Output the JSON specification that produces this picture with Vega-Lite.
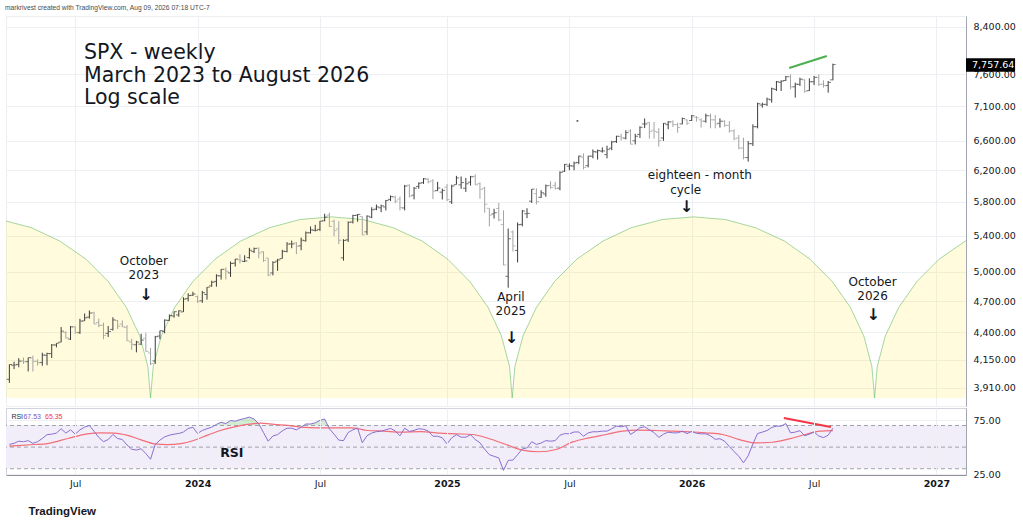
{
  "$schema": "https://vega.github.io/schema/vega-lite/v6.json",
  "background": "#ffffff",
  "padding": {"left": 5, "top": 4, "right": 0, "bottom": 0},
  "title": {
    "text": "markrivest created with TradingView.com, Aug 09, 2026 07:18 UTC-7",
    "anchor": "start",
    "font": "Liberation Sans",
    "fontSize": 6.7,
    "fontWeight": "normal",
    "color": "#4a4a4a",
    "offset": 4
  },
  "config": {
    "font": "DejaVu Sans",
    "view": {"stroke": null},
    "axis": {
      "labelFont": "DejaVu Sans",
      "labelColor": "#131722",
      "gridColor": "#eeeff2",
      "ticks": false,
      "domainColor": "#a3a6af"
    }
  },
  "datasets": {
    "bars": [
      {"d":"2023-03-27","o":3982,"h":4110,"l":3952,"c":4109,"rsi":52.5},
      {"d":"2023-04-03","o":4102,"h":4133,"l":4069,"c":4105,"rsi":53.5},
      {"d":"2023-04-10","o":4110,"h":4164,"l":4085,"c":4138,"rsi":55.5},
      {"d":"2023-04-17","o":4140,"h":4170,"l":4114,"c":4133,"rsi":55},
      {"d":"2023-04-24","o":4134,"h":4170,"l":4049,"c":4169,"rsi":56},
      {"d":"2023-05-01","o":4166,"h":4187,"l":4048,"c":4136,"rsi":53.5},
      {"d":"2023-05-08","o":4136,"h":4155,"l":4099,"c":4124,"rsi":55},
      {"d":"2023-05-15","o":4126,"h":4213,"l":4098,"c":4192,"rsi":58},
      {"d":"2023-05-22","o":4190,"h":4213,"l":4103,"c":4205,"rsi":61.5},
      {"d":"2023-05-29","o":4205,"h":4291,"l":4166,"c":4282,"rsi":62},
      {"d":"2023-06-05","o":4283,"h":4299,"l":4261,"c":4299,"rsi":63},
      {"d":"2023-06-12","o":4308,"h":4448,"l":4307,"c":4410,"rsi":67},
      {"d":"2023-06-19","o":4397,"h":4409,"l":4341,"c":4348,"rsi":63},
      {"d":"2023-06-26","o":4337,"h":4458,"l":4328,"c":4450,"rsi":66},
      {"d":"2023-07-03","o":4450,"h":4456,"l":4385,"c":4399,"rsi":62},
      {"d":"2023-07-10","o":4395,"h":4527,"l":4385,"c":4505,"rsi":66},
      {"d":"2023-07-17","o":4506,"h":4578,"l":4506,"c":4536,"rsi":68.5},
      {"d":"2023-07-24","o":4543,"h":4607,"l":4528,"c":4582,"rsi":70},
      {"d":"2023-07-31","o":4585,"h":4594,"l":4474,"c":4478,"rsi":64.6},
      {"d":"2023-08-07","o":4492,"h":4528,"l":4447,"c":4464,"rsi":59},
      {"d":"2023-08-14","o":4465,"h":4490,"l":4335,"c":4370,"rsi":55},
      {"d":"2023-08-21","o":4389,"h":4458,"l":4356,"c":4406,"rsi":57},
      {"d":"2023-08-28","o":4426,"h":4541,"l":4415,"c":4516,"rsi":61.7},
      {"d":"2023-09-04","o":4510,"h":4515,"l":4430,"c":4457,"rsi":58},
      {"d":"2023-09-11","o":4476,"h":4511,"l":4448,"c":4450,"rsi":57},
      {"d":"2023-09-18","o":4445,"h":4466,"l":4317,"c":4320,"rsi":52},
      {"d":"2023-09-25","o":4310,"h":4339,"l":4238,"c":4288,"rsi":48},
      {"d":"2023-10-02","o":4284,"h":4320,"l":4216,"c":4309,"rsi":47.3},
      {"d":"2023-10-09","o":4290,"h":4385,"l":4283,"c":4327,"rsi":48.5},
      {"d":"2023-10-16","o":4343,"h":4394,"l":4223,"c":4224,"rsi":44},
      {"d":"2023-10-23","o":4210,"h":4256,"l":4104,"c":4117,"rsi":38.8},
      {"d":"2023-10-30","o":4140,"h":4366,"l":4114,"c":4358,"rsi":52.5},
      {"d":"2023-11-06","o":4364,"h":4415,"l":4335,"c":4415,"rsi":56.5},
      {"d":"2023-11-13","o":4407,"h":4521,"l":4389,"c":4514,"rsi":59.5},
      {"d":"2023-11-20","o":4511,"h":4568,"l":4507,"c":4559,"rsi":61},
      {"d":"2023-11-27","o":4554,"h":4598,"l":4537,"c":4595,"rsi":62},
      {"d":"2023-12-04","o":4564,"h":4609,"l":4547,"c":4604,"rsi":62.6},
      {"d":"2023-12-11","o":4593,"h":4738,"l":4593,"c":4719,"rsi":64},
      {"d":"2023-12-18","o":4726,"h":4778,"l":4697,"c":4755,"rsi":67.2},
      {"d":"2023-12-25","o":4758,"h":4793,"l":4751,"c":4770,"rsi":68.4},
      {"d":"2024-01-01","o":4745,"h":4755,"l":4682,"c":4697,"rsi":62.6},
      {"d":"2024-01-08","o":4703,"h":4802,"l":4682,"c":4784,"rsi":65.4},
      {"d":"2024-01-15","o":4766,"h":4842,"l":4714,"c":4840,"rsi":67},
      {"d":"2024-01-22","o":4853,"h":4907,"l":4845,"c":4891,"rsi":68.5},
      {"d":"2024-01-29","o":4900,"h":4975,"l":4845,"c":4959,"rsi":71},
      {"d":"2024-02-05","o":4957,"h":5030,"l":4919,"c":5027,"rsi":73},
      {"d":"2024-02-12","o":5026,"h":5048,"l":4920,"c":5006,"rsi":71.8},
      {"d":"2024-02-19","o":4989,"h":5111,"l":4946,"c":5089,"rsi":74.6},
      {"d":"2024-02-26","o":5093,"h":5140,"l":5057,"c":5137,"rsi":74},
      {"d":"2024-03-04","o":5131,"h":5190,"l":5091,"c":5124,"rsi":75.5},
      {"d":"2024-03-11","o":5111,"h":5179,"l":5104,"c":5117,"rsi":76.5},
      {"d":"2024-03-18","o":5154,"h":5261,"l":5140,"c":5234,"rsi":77.8},
      {"d":"2024-03-25","o":5219,"h":5264,"l":5204,"c":5254,"rsi":76},
      {"d":"2024-04-01","o":5258,"h":5264,"l":5146,"c":5204,"rsi":71.5},
      {"d":"2024-04-08","o":5218,"h":5222,"l":5107,"c":5123,"rsi":63.5},
      {"d":"2024-04-15","o":5149,"h":5150,"l":4954,"c":4967,"rsi":55.5},
      {"d":"2024-04-22","o":4988,"h":5114,"l":4963,"c":5100,"rsi":60.3},
      {"d":"2024-04-29","o":5114,"h":5140,"l":5011,"c":5128,"rsi":61.6},
      {"d":"2024-05-06","o":5142,"h":5239,"l":5142,"c":5223,"rsi":65},
      {"d":"2024-05-13","o":5221,"h":5325,"l":5211,"c":5303,"rsi":67.5},
      {"d":"2024-05-20","o":5305,"h":5342,"l":5257,"c":5305,"rsi":67.5},
      {"d":"2024-05-27","o":5316,"h":5325,"l":5191,"c":5278,"rsi":66},
      {"d":"2024-06-03","o":5284,"h":5376,"l":5234,"c":5347,"rsi":68.4},
      {"d":"2024-06-10","o":5341,"h":5447,"l":5331,"c":5431,"rsi":71.4},
      {"d":"2024-06-17","o":5432,"h":5505,"l":5421,"c":5465,"rsi":71.4},
      {"d":"2024-06-24","o":5460,"h":5524,"l":5447,"c":5460,"rsi":72.5},
      {"d":"2024-07-01","o":5471,"h":5570,"l":5453,"c":5567,"rsi":74.8},
      {"d":"2024-07-08","o":5572,"h":5655,"l":5565,"c":5615,"rsi":76},
      {"d":"2024-07-15","o":5638,"h":5669,"l":5497,"c":5505,"rsi":67},
      {"d":"2024-07-22","o":5565,"h":5585,"l":5391,"c":5459,"rsi":62},
      {"d":"2024-07-29","o":5477,"h":5566,"l":5302,"c":5346,"rsi":56.5},
      {"d":"2024-08-05","o":5151,"h":5358,"l":5120,"c":5344,"rsi":56},
      {"d":"2024-08-12","o":5351,"h":5564,"l":5327,"c":5554,"rsi":63.5},
      {"d":"2024-08-19","o":5557,"h":5643,"l":5540,"c":5634,"rsi":66},
      {"d":"2024-08-26","o":5637,"h":5651,"l":5560,"c":5648,"rsi":67.7},
      {"d":"2024-09-02","o":5623,"h":5624,"l":5403,"c":5408,"rsi":54},
      {"d":"2024-09-09","o":5442,"h":5636,"l":5407,"c":5626,"rsi":60.5},
      {"d":"2024-09-16","o":5615,"h":5733,"l":5602,"c":5703,"rsi":63},
      {"d":"2024-09-23","o":5711,"h":5767,"l":5698,"c":5738,"rsi":64.3},
      {"d":"2024-09-30","o":5727,"h":5765,"l":5674,"c":5751,"rsi":64.8},
      {"d":"2024-10-07","o":5737,"h":5823,"l":5695,"c":5815,"rsi":66},
      {"d":"2024-10-14","o":5830,"h":5879,"l":5809,"c":5864,"rsi":67.3},
      {"d":"2024-10-21","o":5857,"h":5878,"l":5783,"c":5808,"rsi":65},
      {"d":"2024-10-28","o":5833,"h":5866,"l":5696,"c":5729,"rsi":60.5},
      {"d":"2024-11-04","o":5725,"h":6012,"l":5696,"c":5996,"rsi":67.5},
      {"d":"2024-11-11","o":6008,"h":6018,"l":5853,"c":5871,"rsi":64.5},
      {"d":"2024-11-18","o":5882,"h":5985,"l":5830,"c":5969,"rsi":65.5},
      {"d":"2024-11-25","o":5992,"h":6044,"l":5963,"c":6032,"rsi":67},
      {"d":"2024-12-02","o":6040,"h":6099,"l":6024,"c":6090,"rsi":66.5},
      {"d":"2024-12-09","o":6083,"h":6099,"l":6030,"c":6051,"rsi":65},
      {"d":"2024-12-16","o":6063,"h":6085,"l":5832,"c":5931,"rsi":60.1},
      {"d":"2024-12-23","o":5940,"h":6050,"l":5932,"c":5971,"rsi":60.1},
      {"d":"2024-12-30","o":5920,"h":5965,"l":5829,"c":5942,"rsi":58.6},
      {"d":"2025-01-06","o":5982,"h":6022,"l":5809,"c":5827,"rsi":53},
      {"d":"2025-01-13","o":5800,"h":6014,"l":5773,"c":5997,"rsi":58.6},
      {"d":"2025-01-20","o":6014,"h":6128,"l":6014,"c":6101,"rsi":61.5},
      {"d":"2025-01-27","o":6012,"h":6120,"l":5962,"c":6041,"rsi":59.2},
      {"d":"2025-02-03","o":5969,"h":6101,"l":5923,"c":6026,"rsi":59.2},
      {"d":"2025-02-10","o":6046,"h":6128,"l":6003,"c":6115,"rsi":61.5},
      {"d":"2025-02-17","o":6121,"h":6147,"l":6009,"c":6013,"rsi":57},
      {"d":"2025-02-24","o":6027,"h":6044,"l":5837,"c":5955,"rsi":54},
      {"d":"2025-03-03","o":5969,"h":5987,"l":5667,"c":5770,"rsi":48},
      {"d":"2025-03-10","o":5721,"h":5721,"l":5505,"c":5639,"rsi":43},
      {"d":"2025-03-17","o":5653,"h":5715,"l":5598,"c":5667,"rsi":41.5},
      {"d":"2025-03-24","o":5718,"h":5787,"l":5566,"c":5581,"rsi":40},
      {"d":"2025-03-31","o":5527,"h":5696,"l":5069,"c":5074,"rsi":28.4},
      {"d":"2025-04-07","o":4953,"h":5481,"l":4835,"c":5363,"rsi":37.7},
      {"d":"2025-04-14","o":5441,"h":5460,"l":5220,"c":5283,"rsi":38},
      {"d":"2025-04-21","o":5232,"h":5551,"l":5101,"c":5525,"rsi":43},
      {"d":"2025-04-28","o":5529,"h":5700,"l":5506,"c":5687,"rsi":48.4},
      {"d":"2025-05-05","o":5655,"h":5721,"l":5603,"c":5660,"rsi":49.3},
      {"d":"2025-05-12","o":5808,"h":5959,"l":5786,"c":5958,"rsi":55},
      {"d":"2025-05-19","o":5902,"h":5969,"l":5767,"c":5803,"rsi":52.5},
      {"d":"2025-05-26","o":5855,"h":5944,"l":5848,"c":5912,"rsi":53.8},
      {"d":"2025-06-02","o":5897,"h":6016,"l":5862,"c":6000,"rsi":56},
      {"d":"2025-06-09","o":6005,"h":6059,"l":5963,"c":5977,"rsi":55.5},
      {"d":"2025-06-16","o":6005,"h":6050,"l":5953,"c":5968,"rsi":56},
      {"d":"2025-06-23","o":5970,"h":6187,"l":5943,"c":6173,"rsi":61},
      {"d":"2025-06-30","o":6188,"h":6284,"l":6179,"c":6279,"rsi":62.5},
      {"d":"2025-07-07","o":6255,"h":6290,"l":6201,"c":6260,"rsi":62.3},
      {"d":"2025-07-14","o":6256,"h":6315,"l":6201,"c":6297,"rsi":64},
      {"d":"2025-07-21","o":6305,"h":6396,"l":6281,"c":6389,"rsi":64},
      {"d":"2025-07-28","o":6374,"h":6427,"l":6212,"c":6238,"rsi":60.1},
      {"d":"2025-08-04","o":6261,"h":6395,"l":6239,"c":6389,"rsi":63.2},
      {"d":"2025-08-11","o":6389,"h":6481,"l":6360,"c":6450,"rsi":64.2},
      {"d":"2025-08-18","o":6445,"h":6478,"l":6343,"c":6467,"rsi":64.2},
      {"d":"2025-08-25","o":6457,"h":6508,"l":6437,"c":6460,"rsi":64.8},
      {"d":"2025-09-01","o":6410,"h":6532,"l":6360,"c":6482,"rsi":64.8},
      {"d":"2025-09-08","o":6498,"h":6600,"l":6470,"c":6584,"rsi":67},
      {"d":"2025-09-15","o":6590,"h":6672,"l":6570,"c":6664,"rsi":69.4},
      {"d":"2025-09-22","o":6662,"h":6699,"l":6603,"c":6644,"rsi":68.8},
      {"d":"2025-09-29","o":6638,"h":6750,"l":6620,"c":6716,"rsi":69.8},
      {"d":"2025-10-06","o":6740,"h":6764,"l":6550,"c":6553,"rsi":61.7},
      {"d":"2025-10-13","o":6600,"h":6700,"l":6550,"c":6664,"rsi":64.5},
      {"d":"2025-10-20","o":6690,"h":6807,"l":6640,"c":6792,"rsi":68},
      {"d":"2025-10-27","o":6840,"h":6920,"l":6780,"c":6840,"rsi":68.8},
      {"d":"2025-11-03","o":6860,"h":6870,"l":6630,"c":6729,"rsi":66},
      {"d":"2025-11-10","o":6750,"h":6870,"l":6630,"c":6734,"rsi":63.5},
      {"d":"2025-11-17","o":6720,"h":6780,"l":6520,"c":6603,"rsi":59},
      {"d":"2025-11-24","o":6640,"h":6853,"l":6600,"c":6849,"rsi":62},
      {"d":"2025-12-01","o":6830,"h":6883,"l":6763,"c":6870,"rsi":63.8},
      {"d":"2025-12-08","o":6870,"h":6893,"l":6796,"c":6830,"rsi":63.2},
      {"d":"2025-12-15","o":6830,"h":6859,"l":6715,"c":6790,"rsi":63.2},
      {"d":"2025-12-22","o":6840,"h":6932,"l":6835,"c":6920,"rsi":64.8},
      {"d":"2025-12-29","o":6900,"h":6907,"l":6825,"c":6850,"rsi":62.5},
      {"d":"2026-01-05","o":6890,"h":6971,"l":6883,"c":6960,"rsi":64.5},
      {"d":"2026-01-12","o":6940,"h":6956,"l":6873,"c":6930,"rsi":62.8},
      {"d":"2026-01-19","o":6900,"h":6922,"l":6787,"c":6880,"rsi":62.3},
      {"d":"2026-01-26","o":6880,"h":6991,"l":6859,"c":6960,"rsi":62.3},
      {"d":"2026-02-02","o":6960,"h":6991,"l":6777,"c":6900,"rsi":60.5},
      {"d":"2026-02-09","o":6900,"h":6971,"l":6777,"c":6840,"rsi":57.2},
      {"d":"2026-02-16","o":6850,"h":6922,"l":6787,"c":6880,"rsi":57.8},
      {"d":"2026-02-23","o":6880,"h":6893,"l":6796,"c":6820,"rsi":55.5},
      {"d":"2026-03-02","o":6820,"h":6883,"l":6715,"c":6740,"rsi":50.5},
      {"d":"2026-03-09","o":6740,"h":6763,"l":6607,"c":6630,"rsi":46},
      {"d":"2026-03-16","o":6640,"h":6682,"l":6482,"c":6500,"rsi":41.5},
      {"d":"2026-03-23","o":6500,"h":6644,"l":6346,"c":6370,"rsi":35.5},
      {"d":"2026-03-30","o":6370,"h":6598,"l":6315,"c":6560,"rsi":42},
      {"d":"2026-04-06","o":6560,"h":6835,"l":6528,"c":6800,"rsi":53},
      {"d":"2026-04-13","o":6800,"h":7156,"l":6777,"c":7140,"rsi":62.6},
      {"d":"2026-04-20","o":7120,"h":7156,"l":7080,"c":7130,"rsi":63.9},
      {"d":"2026-04-27","o":7130,"h":7232,"l":7105,"c":7210,"rsi":65.3},
      {"d":"2026-05-04","o":7200,"h":7387,"l":7156,"c":7370,"rsi":68.2},
      {"d":"2026-05-11","o":7360,"h":7492,"l":7335,"c":7480,"rsi":69.4},
      {"d":"2026-05-18","o":7470,"h":7503,"l":7335,"c":7490,"rsi":69.4},
      {"d":"2026-05-25","o":7500,"h":7572,"l":7492,"c":7560,"rsi":71.8},
      {"d":"2026-06-01","o":7560,"h":7598,"l":7361,"c":7400,"rsi":63.2},
      {"d":"2026-06-08","o":7400,"h":7466,"l":7232,"c":7440,"rsi":63.9},
      {"d":"2026-06-15","o":7440,"h":7545,"l":7413,"c":7520,"rsi":65.2},
      {"d":"2026-06-22","o":7510,"h":7519,"l":7309,"c":7330,"rsi":60.5},
      {"d":"2026-06-29","o":7340,"h":7534,"l":7335,"c":7480,"rsi":62},
      {"d":"2026-07-06","o":7480,"h":7572,"l":7429,"c":7550,"rsi":64},
      {"d":"2026-07-13","o":7550,"h":7598,"l":7413,"c":7440,"rsi":60.3},
      {"d":"2026-07-20","o":7440,"h":7503,"l":7387,"c":7420,"rsi":58.8},
      {"d":"2026-07-27","o":7420,"h":7492,"l":7309,"c":7470,"rsi":61},
      {"d":"2026-08-03","o":7510,"h":7772,"l":7503,"c":7757.64,"rsi":67.53}
    ],
    "rsima": [
      {"d":"2023-03-27","v":51},{"d":"2023-05-03","v":52.4},{"d":"2023-05-23","v":53.3},
      {"d":"2023-06-22","v":58},{"d":"2023-07-21","v":62.3},{"d":"2023-08-10","v":63.2},
      {"d":"2023-08-30","v":62.9},{"d":"2023-09-19","v":60.8},{"d":"2023-10-08","v":57},
      {"d":"2023-10-29","v":53},{"d":"2023-11-17","v":52.4},{"d":"2023-12-07","v":53.3},
      {"d":"2023-12-27","v":56.4},{"d":"2024-01-16","v":61.1},{"d":"2024-02-04","v":65.4},
      {"d":"2024-02-25","v":68.8},{"d":"2024-03-15","v":71},{"d":"2024-04-04","v":72.2},
      {"d":"2024-04-24","v":71},{"d":"2024-05-14","v":70.1},{"d":"2024-06-02","v":68.5},
      {"d":"2024-06-28","v":67.9},{"d":"2024-07-22","v":67.9},{"d":"2024-08-16","v":67.9},
      {"d":"2024-09-10","v":65.4},{"d":"2024-10-04","v":64.8},{"d":"2024-10-29","v":63.9},
      {"d":"2024-11-29","v":64.4},{"d":"2024-12-25","v":62.9},{"d":"2025-01-19","v":62.3},
      {"d":"2025-02-13","v":61.7},{"d":"2025-03-09","v":58},{"d":"2025-04-04","v":52.4},
      {"d":"2025-04-28","v":47.2},{"d":"2025-05-23","v":45.7},{"d":"2025-06-17","v":47.8},
      {"d":"2025-07-12","v":54.8},{"d":"2025-08-05","v":58.6},{"d":"2025-08-31","v":61.7},
      {"d":"2025-09-24","v":64.8},{"d":"2025-10-19","v":65.7},{"d":"2025-11-13","v":65.4},
      {"d":"2025-12-07","v":64.8},{"d":"2026-01-02","v":64.2},{"d":"2026-01-26","v":63.2},
      {"d":"2026-02-20","v":61.7},{"d":"2026-03-17","v":57},{"d":"2026-04-10","v":53.9},
      {"d":"2026-05-05","v":54.5},{"d":"2026-05-30","v":57.6},{"d":"2026-06-23","v":61.7},
      {"d":"2026-07-14","v":64.8},{"d":"2026-08-03","v":65.35}
    ],
    "arcs": [
      {"arc":1,"d":"2023-01-26","p":5618},{"arc":1,"d":"2023-03-14","p":5586},
      {"arc":1,"d":"2023-04-29","p":5490},{"arc":1,"d":"2023-06-10","p":5337},
      {"arc":1,"d":"2023-07-19","p":5136},{"arc":1,"d":"2023-08-21","p":4899},
      {"arc":1,"d":"2023-09-17","p":4638},{"arc":1,"d":"2023-10-07","p":4365},
      {"arc":1,"d":"2023-10-19","p":4092},{"arc":1,"d":"2023-10-23","p":3828},
      {"arc":2,"d":"2023-10-23","p":3828},{"arc":2,"d":"2023-10-27","p":4092},
      {"arc":2,"d":"2023-11-08","p":4365},{"arc":2,"d":"2023-11-28","p":4638},
      {"arc":2,"d":"2023-12-25","p":4899},{"arc":2,"d":"2024-01-27","p":5136},
      {"arc":2,"d":"2024-03-05","p":5337},{"arc":2,"d":"2024-04-17","p":5490},
      {"arc":2,"d":"2024-06-01","p":5586},{"arc":2,"d":"2024-07-18","p":5618},
      {"arc":2,"d":"2024-09-03","p":5586},{"arc":2,"d":"2024-10-18","p":5490},
      {"arc":2,"d":"2024-11-30","p":5337},{"arc":2,"d":"2025-01-07","p":5136},
      {"arc":2,"d":"2025-02-09","p":4899},{"arc":2,"d":"2025-03-08","p":4638},
      {"arc":2,"d":"2025-03-28","p":4365},{"arc":2,"d":"2025-04-09","p":4092},
      {"arc":2,"d":"2025-04-13","p":3828},
      {"arc":3,"d":"2025-04-13","p":3828},{"arc":3,"d":"2025-04-17","p":4092},
      {"arc":3,"d":"2025-04-29","p":4365},{"arc":3,"d":"2025-05-19","p":4638},
      {"arc":3,"d":"2025-06-15","p":4899},{"arc":3,"d":"2025-07-18","p":5136},
      {"arc":3,"d":"2025-08-26","p":5337},{"arc":3,"d":"2025-10-07","p":5490},
      {"arc":3,"d":"2025-11-22","p":5586},{"arc":3,"d":"2026-01-08","p":5618},
      {"arc":3,"d":"2026-02-24","p":5586},{"arc":3,"d":"2026-04-10","p":5490},
      {"arc":3,"d":"2026-05-23","p":5337},{"arc":3,"d":"2026-06-30","p":5136},
      {"arc":3,"d":"2026-08-02","p":4899},{"arc":3,"d":"2026-08-29","p":4638},
      {"arc":3,"d":"2026-09-18","p":4365},{"arc":3,"d":"2026-09-30","p":4092},
      {"arc":3,"d":"2026-10-04","p":3828},
      {"arc":4,"d":"2026-10-04","p":3828},{"arc":4,"d":"2026-10-08","p":4092},
      {"arc":4,"d":"2026-10-20","p":4365},{"arc":4,"d":"2026-11-09","p":4638},
      {"arc":4,"d":"2026-12-06","p":4899},{"arc":4,"d":"2027-01-08","p":5136},
      {"arc":4,"d":"2027-02-16","p":5337},{"arc":4,"d":"2027-03-31","p":5490}
    ],
    "pricetrend": [{"d":"2026-05-30","p":7701},{"d":"2026-07-25","p":7899}],
    "rsitrend": [{"d":"2026-05-22","v":77},{"d":"2026-07-31","v":68.7}],
    "dot": [{"d":"2025-07-19","p":6884}],
    "headline": [
      {"d":"2023-07-16","p":7844,"t":"SPX - weekly"},
      {"d":"2023-07-16","p":7479,"t":"March 2023 to August 2026"},
      {"d":"2023-07-16","p":7132,"t":"Log scale"}
    ],
    "notes": [
      {"d":"2023-10-13","p":5111,"t":"October"},
      {"d":"2023-10-13","p":4962,"t":"2023"},
      {"d":"2025-04-11","p":4741,"t":"April"},
      {"d":"2025-04-11","p":4602,"t":"2025"},
      {"d":"2026-01-17","p":6133,"t":"eighteen - month"},
      {"d":"2025-12-27","p":5953,"t":"cycle"},
      {"d":"2026-10-01","p":4894,"t":"October"},
      {"d":"2026-10-01","p":4751,"t":"2026"}
    ],
    "arrows": [
      {"d":"2023-10-16","p":4761},
      {"d":"2025-04-12","p":4346},
      {"d":"2025-12-28","p":5737},
      {"d":"2026-10-02","p":4563}
    ],
    "last": [{"d":"2027-02-26","c":7757.64}],
    "band": [{"top":70,"bottom":30}],
    "levels": [{"v":70},{"v":50},{"v":30}],
    "legend": [
      {"d":"2023-03-30","v":78.1,"s":"name","t":"RSI"},
      {"d":"2023-04-17","v":78.1,"s":"rsi","t":"67.53"},
      {"d":"2023-05-19","v":78.1,"s":"ma","t":"65.35"}
    ],
    "rsilabel": [{"d":"2024-02-21","v":44.5,"t":"RSI"}]
  },
  "spacing": 0,
  "resolve": {"scale": {"x": "independent", "y": "independent"}},
  "vconcat": [
    {
      "width": 960,
      "height": 390,
      "view": {"stroke": "#eceef2"},
      "layer": [
        {
          "data": {"name": "arcs"},
          "mark": {"type": "area", "color": "#ffeb3b", "opacity": 0.18, "clip": true},
          "encoding": {
            "x": {
              "field": "d", "type": "temporal", "title": null,
              "scale": {"type": "utc", "domain": [
                {"year": 2023, "month": 3, "date": 22, "utc": true},
                {"year": 2027, "month": 2, "date": 17, "utc": true}
              ]},
              "axis": {
                "values": [
                  {"year": 2023, "month": 7, "date": 3, "utc": true},
                  {"year": 2024, "month": 1, "date": 1, "utc": true},
                  {"year": 2024, "month": 7, "date": 1, "utc": true},
                  {"year": 2025, "month": 1, "date": 6, "utc": true},
                  {"year": 2025, "month": 7, "date": 7, "utc": true},
                  {"year": 2026, "month": 1, "date": 5, "utc": true},
                  {"year": 2026, "month": 7, "date": 6, "utc": true},
                  {"year": 2027, "month": 1, "date": 4, "utc": true}
                ],
                "labels": false, "domain": false, "grid": true,
                "minExtent": 0, "maxExtent": 0
              }
            },
            "y": {
              "field": "p", "type": "quantitative", "title": null,
              "scale": {"type": "log", "domain": [3763, 8598], "nice": false},
              "axis": {
                "orient": "right",
                "values": [3910, 4150, 4400, 4700, 5000, 5400, 5800, 6200, 6600, 7100, 7600, 8400],
                "format": ",.2f",
                "labelFontSize": 9.5,
                "labelPadding": 7,
                "grid": true,
                "domain": true
              }
            },
            "y2": {"datum": 3828},
            "detail": {"field": "arc", "type": "nominal"}
          }
        },
        {
          "data": {"name": "arcs"},
          "mark": {"type": "line", "color": "#4caf50", "opacity": 0.5, "strokeWidth": 1, "clip": true},
          "encoding": {
            "x": {"field": "d", "type": "temporal", "title": null},
            "y": {"field": "p", "type": "quantitative", "title": null},
            "detail": {"field": "arc", "type": "nominal"}
          }
        },
        {
          "data": {"name": "bars"},
          "mark": {"type": "rule", "strokeWidth": 1},
          "encoding": {
            "x": {"field": "d", "type": "temporal", "title": null},
            "y": {"field": "l", "type": "quantitative", "title": null},
            "y2": {"field": "h"},
            "color": {"condition": {"test": "datum.c < datum.o", "value": "#a3a3a3"}, "value": "#3a3a3a"}
          }
        },
        {
          "data": {"name": "bars"},
          "mark": {"type": "tick", "orient": "horizontal", "size": 2.5, "thickness": 1, "xOffset": -1.5},
          "encoding": {
            "x": {"field": "d", "type": "temporal", "title": null},
            "y": {"field": "o", "type": "quantitative", "title": null},
            "color": {"condition": {"test": "datum.c < datum.o", "value": "#a3a3a3"}, "value": "#3a3a3a"}
          }
        },
        {
          "data": {"name": "bars"},
          "mark": {"type": "tick", "orient": "horizontal", "size": 2.5, "thickness": 1, "xOffset": 1.5},
          "encoding": {
            "x": {"field": "d", "type": "temporal", "title": null},
            "y": {"field": "c", "type": "quantitative", "title": null},
            "color": {"condition": {"test": "datum.c < datum.o", "value": "#a3a3a3"}, "value": "#3a3a3a"}
          }
        },
        {
          "data": {"name": "pricetrend"},
          "mark": {"type": "line", "color": "#4caf50", "strokeWidth": 2},
          "encoding": {
            "x": {"field": "d", "type": "temporal", "title": null},
            "y": {"field": "p", "type": "quantitative", "title": null}
          }
        },
        {
          "data": {"name": "dot"},
          "mark": {"type": "square", "color": "#555555", "size": 3, "opacity": 1},
          "encoding": {
            "x": {"field": "d", "type": "temporal", "title": null},
            "y": {"field": "p", "type": "quantitative", "title": null}
          }
        },
        {
          "data": {"name": "headline"},
          "mark": {"type": "text", "align": "left", "baseline": "alphabetic", "fontSize": 20.5, "font": "DejaVu Sans", "color": "#131722"},
          "encoding": {
            "x": {"field": "d", "type": "temporal", "title": null},
            "y": {"field": "p", "type": "quantitative", "title": null},
            "text": {"field": "t"}
          }
        },
        {
          "data": {"name": "notes"},
          "mark": {"type": "text", "align": "center", "baseline": "middle", "fontSize": 12, "font": "DejaVu Sans", "color": "#131722"},
          "encoding": {
            "x": {"field": "d", "type": "temporal", "title": null},
            "y": {"field": "p", "type": "quantitative", "title": null},
            "text": {"field": "t"}
          }
        },
        {
          "data": {"name": "arrows"},
          "mark": {"type": "text", "text": "↓", "align": "center", "baseline": "middle", "fontSize": 16, "fontWeight": "bold", "font": "DejaVu Sans", "color": "#131722"},
          "encoding": {
            "x": {"field": "d", "type": "temporal", "title": null},
            "y": {"field": "p", "type": "quantitative", "title": null}
          }
        },
        {
          "data": {"name": "last"},
          "mark": {"type": "rect", "color": "#000000"},
          "encoding": {
            "x": {"datum": {"year": 2027, "month": 2, "date": 17, "utc": true}, "type": "temporal"},
            "x2": {"datum": {"year": 2027, "month": 5, "date": 1, "utc": true}},
            "y": {"datum": 7641, "type": "quantitative"},
            "y2": {"datum": 7861}
          }
        },
        {
          "data": {"name": "last"},
          "mark": {"type": "text", "align": "left", "baseline": "middle", "fontSize": 9.5, "font": "DejaVu Sans", "color": "#ffffff"},
          "encoding": {
            "x": {"field": "d", "type": "temporal", "title": null},
            "y": {"field": "c", "type": "quantitative", "title": null},
            "text": {"field": "c", "type": "quantitative", "format": ",.2f"}
          }
        }
      ]
    },
    {
      "width": 960,
      "height": 67,
      "view": {"stroke": "#d1d4dc"},
      "title": {
        "text": "TradingView",
        "orient": "bottom",
        "anchor": "start",
        "font": "Liberation Sans",
        "fontSize": 11.5,
        "fontWeight": "bold",
        "color": "#131722",
        "offset": 18,
        "dx": 23
      },
      "layer": [
        {
          "data": {"name": "bars"},
          "transform": [{"filter": "datum.rsi >= 50"}],
          "mark": {"type": "area", "color": "#4caf50", "opacity": 0.25},
          "encoding": {
            "x": {
              "field": "d", "type": "temporal", "title": null,
              "scale": {"type": "utc", "domain": [
                {"year": 2023, "month": 3, "date": 22, "utc": true},
                {"year": 2027, "month": 2, "date": 17, "utc": true}
              ]},
              "axis": {
                "values": [
                  {"year": 2023, "month": 7, "date": 3, "utc": true},
                  {"year": 2024, "month": 1, "date": 1, "utc": true},
                  {"year": 2024, "month": 7, "date": 1, "utc": true},
                  {"year": 2025, "month": 1, "date": 6, "utc": true},
                  {"year": 2025, "month": 7, "date": 7, "utc": true},
                  {"year": 2026, "month": 1, "date": 5, "utc": true},
                  {"year": 2026, "month": 7, "date": 6, "utc": true},
                  {"year": 2027, "month": 1, "date": 4, "utc": true}
                ],
                "labelExpr": "utcmonth(datum.value) == 0 ? utcFormat(datum.value, '%Y') : utcFormat(datum.value, '%b')",
                "labelFontWeight": {"condition": {"test": "utcmonth(datum.value) == 0", "value": "bold"}, "value": "normal"},
                "labelFontSize": 9.5,
                "labelPadding": 3,
                "domainColor": "#8f929b",
                "grid": true,
                "zindex": 1
              }
            },
            "y": {
              "field": "rsi", "type": "quantitative", "title": null,
              "scale": {"domain": [24.2, 86.2], "nice": false, "zero": false},
              "axis": {
                "orient": "right",
                "values": [25, 50, 75],
                "format": ".2f",
                "labelFontSize": 9.5,
                "labelPadding": 7,
                "grid": true,
                "domain": true
              }
            },
            "y2": {"datum": 70}
          }
        },
        {
          "data": {"name": "band"},
          "mark": {"type": "rect", "color": "#f2eef9", "opacity": 1},
          "encoding": {
            "x": {"datum": {"year": 2023, "month": 3, "date": 22, "utc": true}, "type": "temporal"},
            "x2": {"datum": {"year": 2027, "month": 2, "date": 17, "utc": true}},
            "y": {"field": "top", "type": "quantitative", "title": null},
            "y2": {"field": "bottom"}
          }
        },
        {
          "data": {"name": "levels"},
          "mark": {"type": "rule", "color": "#a0a3ab", "strokeDash": [4, 3], "strokeWidth": 1},
          "encoding": {
            "y": {"field": "v", "type": "quantitative", "title": null}
          }
        },
        {
          "data": {"name": "rsima"},
          "mark": {"type": "line", "color": "#f26d77", "strokeWidth": 1.2, "interpolate": "monotone"},
          "encoding": {
            "x": {"field": "d", "type": "temporal", "title": null},
            "y": {"field": "v", "type": "quantitative", "title": null}
          }
        },
        {
          "data": {"name": "bars"},
          "mark": {"type": "line", "color": "#8a6fd1", "strokeWidth": 1},
          "encoding": {
            "x": {"field": "d", "type": "temporal", "title": null},
            "y": {"field": "rsi", "type": "quantitative", "title": null}
          }
        },
        {
          "data": {"name": "rsitrend"},
          "mark": {"type": "line", "color": "#f23645", "strokeWidth": 2},
          "encoding": {
            "x": {"field": "d", "type": "temporal", "title": null},
            "y": {"field": "v", "type": "quantitative", "title": null}
          }
        },
        {
          "data": {"name": "legend"},
          "mark": {"type": "text", "align": "left", "baseline": "middle", "fontSize": 7, "font": "Liberation Sans"},
          "encoding": {
            "x": {"field": "d", "type": "temporal", "title": null},
            "y": {"field": "v", "type": "quantitative", "title": null},
            "text": {"field": "t"},
            "color": {"field": "s", "type": "nominal", "legend": null,
              "scale": {"domain": ["name", "rsi", "ma"], "range": ["#2a2e39", "#7e57c2", "#f23645"]}}
          }
        },
        {
          "data": {"name": "rsilabel"},
          "mark": {"type": "text", "align": "center", "baseline": "middle", "fontSize": 12.5, "fontWeight": "bold", "font": "DejaVu Sans", "color": "#131722"},
          "encoding": {
            "x": {"field": "d", "type": "temporal", "title": null},
            "y": {"field": "v", "type": "quantitative", "title": null},
            "text": {"field": "t"}
          }
        }
      ]
    }
  ]
}
